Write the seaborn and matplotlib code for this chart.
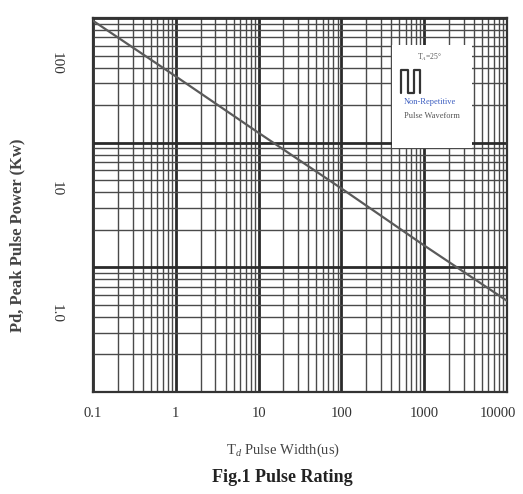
import numpy as np
import pandas as pd
import matplotlib
matplotlib.use("Agg")
import matplotlib.pyplot as plt
from matplotlib.ticker import LogLocator, NullFormatter
from matplotlib.transforms import ScaledTranslation
from matplotlib.patches import Rectangle
import seaborn as sns

# ---- data ----
pulse_width_us = [0.1, 1, 10, 100, 1000, 10000]
peak_power_kw = [95, 34, 12, 4.3, 1.5, 0.54]
x_ticks = [0.1, 1, 10, 100, 1000, 10000]
x_tick_labels = ["0.1", "1", "10", "100", "1000", "10000"]
y_ticks = [0.1, 1, 10, 100]
y_tick_labels = ["", "1.0", "10", "100"]

sns.set_style("white")
plt.rcParams["font.family"] = ["Liberation Serif", "DejaVu Sans"]
plt.rcParams["mathtext.fontset"] = "custom"
plt.rcParams["mathtext.rm"] = "Liberation Serif"
plt.rcParams["mathtext.it"] = "Liberation Serif:italic"

fig = plt.figure(figsize=(5.23, 4.94), dpi=100)
ax = fig.add_axes([0.178, 0.2065, 0.791, 0.757])

df = pd.DataFrame({"t": pulse_width_us, "p": peak_power_kw})
sns.lineplot(data=df, x="t", y="p", ax=ax, color="#5a5a5a", lw=1.6, zorder=5)

ax.set_xscale("log")
ax.set_yscale("log")
ax.set_xlim(0.1, 10000)
ax.set_ylim(0.1, 100)

ax.xaxis.set_minor_locator(LogLocator(base=10, subs=np.arange(2, 10), numticks=100))
ax.yaxis.set_minor_locator(LogLocator(base=10, subs=np.arange(2, 10), numticks=100))
ax.xaxis.set_minor_formatter(NullFormatter())
ax.yaxis.set_minor_formatter(NullFormatter())

ax.grid(which="major", color="#2a2a2a", lw=2.0, zorder=1)
ax.grid(which="minor", color="#4a4a4a", lw=1.0, zorder=1)
ax.set_axisbelow(True)

ax.set_xticks(x_ticks)
ax.set_xticklabels(x_tick_labels, fontsize=10.5, color="#333333")
ax.set_yticks(y_ticks)
ax.set_yticklabels(y_tick_labels, fontsize=11, color="#333333", rotation=-90,
                   va="center", ha="right")
ax.tick_params(which="both", length=0)
ax.tick_params(axis="x", pad=11)
ax.tick_params(axis="y", pad=22)
off = ScaledTranslation(0, -33 / 72, fig.dpi_scale_trans)
for lab in ax.get_yticklabels():
    lab.set_transform(lab.get_transform() + off)
last = ax.get_xticklabels()[-1]
last.set_ha("right")
last.set_transform(last.get_transform() + ScaledTranslation(9 / 100, 0, fig.dpi_scale_trans))

for s in ax.spines.values():
    s.set_color("#333333")
    s.set_linewidth(1.6)

ax.set_xlabel("")
ax.set_ylabel("")

# inset legend box
ax.add_patch(Rectangle((0.722, 0.653), 0.193, 0.275, transform=ax.transAxes,
                       facecolor="white", edgecolor="none", zorder=6))
ax.text(0.814, 0.895, "T$_A$=25°", transform=ax.transAxes, fontsize=5.5,
        ha="center", va="center", color="#555555", zorder=7)
ax.plot([0.745, 0.745, 0.76, 0.76, 0.775, 0.775, 0.79, 0.79],
        [0.80, 0.86, 0.86, 0.80, 0.80, 0.86, 0.86, 0.80],
        transform=ax.transAxes, color="#333333", lw=1.6, zorder=7)
ax.text(0.815, 0.775, "Non-Repetitive", transform=ax.transAxes, fontsize=6,
        ha="center", va="center", color="#3a5cc0", zorder=7)
ax.text(0.82, 0.737, "Pulse Waveform", transform=ax.transAxes, fontsize=6,
        ha="center", va="center", color="#555555", zorder=7)

fig.text(0.034, 0.524, "Pd, Peak Pulse Power (Kw)", rotation=90, fontsize=12,
         fontweight="bold", color="#444444", ha="center", va="center")
fig.text(0.541, 0.089, "T$_d$ Pulse Width(us)", fontsize=10.5, color="#444444",
         ha="center", va="center")
fig.text(0.539, 0.034, "Fig.1 Pulse Rating", fontsize=13, fontweight="bold",
         color="#222222", ha="center", va="center")

fig.savefig("out.png", dpi=100)
